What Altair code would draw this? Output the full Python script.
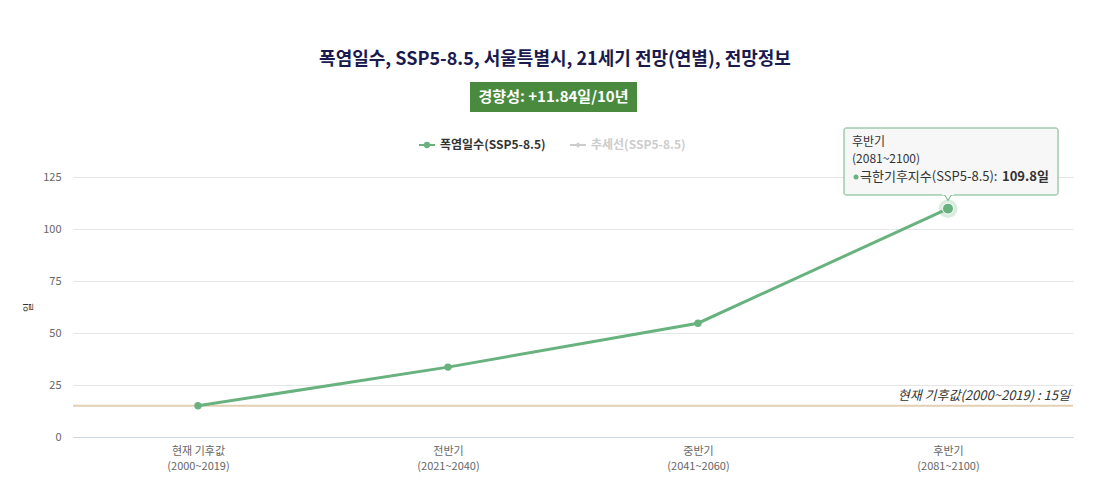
import altair as alt
import pandas as pd

categories = ["현재 기후값\n(2000~2019)", "전반기\n(2021~2040)", "중반기\n(2041~2060)", "후반기\n(2081~2100)"]
values = [15.0, 33.6, 54.7, 109.8]
baseline_value = 15
y_ticks = [0, 25, 50, 75, 100, 125]

FONT = "Noto Sans CJK KR"
GREEN = "#68b27f"

df = pd.DataFrame({"cat": categories, "val": values})
df["hl"] = [False, False, False, True]

x_enc = alt.X("cat:N", sort=categories, title=None,
              scale=alt.Scale(paddingInner=0, paddingOuter=0, align=0.5),
              axis=alt.Axis(labelAngle=0, labelExpr="split(datum.label, '\\n')",
                            labelColor="#666666", labelFont=FONT, labelFontSize=11,
                            labelLineHeight=15, labelPadding=8,
                            domainColor="#ccd6eb", ticks=False, grid=False))
y_scale = alt.Scale(domain=[0, 125], nice=False)
y_enc = alt.Y("val:Q", scale=y_scale, title="일",
              axis=alt.Axis(values=y_ticks, labelColor="#666666", labelFont=FONT,
                            labelFontSize=11, labelPadding=12, ticks=False, domain=False,
                            gridColor="#e6e6e6", titleColor="#333333", titleFont=FONT,
                            titleFontSize=10, titleFontWeight="normal", titlePadding=9))

base = alt.Chart(df)

refline = alt.Chart(pd.DataFrame({"v": [baseline_value]})).mark_rule(
    color="#e3cfb4", strokeWidth=2).encode(y=alt.Y("v:Q", scale=y_scale))
reftext = alt.Chart(pd.DataFrame({"v": [baseline_value], "t": ["현재 기후값(2000~2019) : 15일"]})).mark_text(
    align="right", baseline="bottom", dy=-3, fontStyle="italic", font=FONT, fontSize=13,
    color="#333333").encode(y=alt.Y("v:Q", scale=y_scale), x=alt.value(997), text="t:N")

line = base.mark_line(color=GREEN, strokeWidth=3).encode(x=x_enc, y=y_enc)
pts = base.transform_filter("!datum.hl").mark_circle(color=GREEN, size=55, opacity=1).encode(
    x=alt.X("cat:N", sort=categories), y=alt.Y("val:Q", scale=y_scale))
halo = base.transform_filter("datum.hl").mark_circle(color=GREEN, size=360, opacity=0.25).encode(
    x=alt.X("cat:N", sort=categories), y=alt.Y("val:Q", scale=y_scale))
hpt = base.transform_filter("datum.hl").mark_circle(color=GREEN, size=120, opacity=1,
                                                     stroke="white", strokeWidth=1).encode(
    x=alt.X("cat:N", sort=categories), y=alt.Y("val:Q", scale=y_scale))

# title
title = alt.Chart(pd.DataFrame({"t": ["폭염일수, SSP5-8.5, 서울특별시, 21세기 전망(연별), 전망정보"]})).mark_text(
    font=FONT, fontSize=18, fontWeight="bold", color="#1b1a4f", baseline="middle").encode(
    x=alt.value(482), y=alt.value(-117), text="t:N")
badge = alt.Chart(pd.DataFrame({"a": [1]})).mark_rect(color="#4a8a3f").encode(
    x=alt.value(397), x2=alt.value(564), y=alt.value(-95), y2=alt.value(-65))
badge_t = alt.Chart(pd.DataFrame({"t": ["경향성: +11.84일/10년"]})).mark_text(
    font=FONT, fontSize=15, fontWeight="bold", color="white", baseline="middle").encode(
    x=alt.value(480.5), y=alt.value(-80), text="t:N")

# legend
leg_line1 = alt.Chart(pd.DataFrame({"a": [1]})).mark_rule(color=GREEN, strokeWidth=2).encode(
    x=alt.value(346), x2=alt.value(362), y=alt.value(-32))
leg_dot1 = alt.Chart(pd.DataFrame({"a": [1]})).mark_circle(color=GREEN, size=40, opacity=1).encode(
    x=alt.value(354), y=alt.value(-32))
leg_t1 = alt.Chart(pd.DataFrame({"t": ["폭염일수(SSP5-8.5)"]})).mark_text(
    font=FONT, fontSize=12, fontWeight="bold", color="#333333", align="left", baseline="middle").encode(
    x=alt.value(367), y=alt.value(-32), text="t:N")
leg_line2 = alt.Chart(pd.DataFrame({"a": [1]})).mark_rule(color="#cccccc", strokeWidth=2).encode(
    x=alt.value(497), x2=alt.value(513), y=alt.value(-32))
leg_dot2 = alt.Chart(pd.DataFrame({"a": [1]})).mark_point(color="#cccccc", shape="diamond", filled=True,
                                                          size=30, opacity=1).encode(
    x=alt.value(505), y=alt.value(-32))
leg_t2 = alt.Chart(pd.DataFrame({"t": ["추세선(SSP5-8.5)"]})).mark_text(
    font=FONT, fontSize=12, fontWeight="bold", color="#cccccc", align="left", baseline="middle").encode(
    x=alt.value(518), y=alt.value(-32), text="t:N")

# tooltip
tip_box = alt.Chart(pd.DataFrame({"a": [1]})).mark_rect(
    fill="#f7f7f7", stroke="#6db07e", strokeWidth=1, opacity=0.95, cornerRadius=2).encode(
    x=alt.value(771), x2=alt.value(985), y=alt.value(-49), y2=alt.value(18))
tip_arrow = alt.Chart(pd.DataFrame({"a": [1]})).mark_point(
    shape="triangle-down", filled=True, fill="#f7f7f7", stroke="#6db07e", strokeWidth=1,
    size=70, opacity=1).encode(x=alt.value(875), y=alt.value(20))
tip_cover = alt.Chart(pd.DataFrame({"a": [1]})).mark_rect(fill="#f7f7f7", opacity=1).encode(
    x=alt.value(869), x2=alt.value(881), y=alt.value(15), y2=alt.value(18))
tip_l1 = alt.Chart(pd.DataFrame({"t": ["후반기"]})).mark_text(
    font=FONT, fontSize=12, color="#333333", align="left", baseline="middle").encode(
    x=alt.value(779), y=alt.value(-35), text="t:N")
tip_l2 = alt.Chart(pd.DataFrame({"t": ["(2081~2100)"]})).mark_text(
    font=FONT, fontSize=12, color="#333333", align="left", baseline="middle").encode(
    x=alt.value(779), y=alt.value(-18), text="t:N")
tip_dot = alt.Chart(pd.DataFrame({"a": [1]})).mark_circle(color=GREEN, size=25, opacity=1).encode(
    x=alt.value(783), y=alt.value(0))
tip_l3 = alt.Chart(pd.DataFrame({"t": ["극한기후지수(SSP5-8.5):"]})).mark_text(
    font=FONT, fontSize=13, color="#333333", align="left", baseline="middle").encode(
    x=alt.value(787), y=alt.value(0), text="t:N")
tip_l3b = alt.Chart(pd.DataFrame({"t": ["109.8일"]})).mark_text(
    font=FONT, fontSize=13, fontWeight="bold", color="#333333", align="left", baseline="middle").encode(
    x=alt.value(929), y=alt.value(0), text="t:N")

chart = alt.layer(
    refline, line, pts, halo, hpt, reftext, title, badge, badge_t,
    leg_line1, leg_dot1, leg_t1, leg_line2, leg_dot2, leg_t2,
    tip_box, tip_arrow, tip_cover, tip_l1, tip_l2, tip_dot, tip_l3, tip_l3b
).properties(
    width=1000, height=260,
    autosize=alt.AutoSizeParams(type="none"),
    padding={"left": 65, "top": 169, "right": 23, "bottom": 52},
).configure(background="white", view=alt.ViewConfig(stroke="transparent"))

chart.save("out.html", embed_options={"renderer": "svg", "actions": False})
